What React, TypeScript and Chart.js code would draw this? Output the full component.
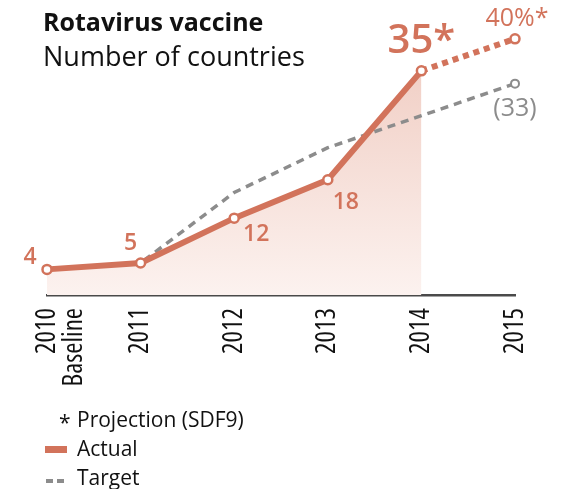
import React, { useEffect, useRef } from "react";
import { Chart, registerables } from "chart.js";

Chart.register(...registerables);

// ---- data ----
const categories: (string | string[])[] = [["2010", "Baseline"], "2011", "2012", "2013", "2014", "2015"];
const actual: (number | null)[] = [4, 5, 12, 18, 35, null];
const projection: (number | null)[] = [null, null, null, null, 35, 40];
const target: (number | null)[] = [4, 5, 16, 23, 28, 33];
const actualLabels: (string | null)[] = ["4", "5", "12", "18", "35*", null];
const projectionLabels: (string | null)[] = [null, null, null, null, null, "40%*"];
const targetLabels: (string | null)[] = [null, null, null, null, null, "(33)"];
const yMin = 0;
const yMax = 42;

const titleText = "Rotavirus vaccine";
const subtitleText = "Number of countries";
const legendNote = "Projection (SDF9)";
const legendActual = "Actual";
const legendTarget = "Target";

// ---- styles ----
const SALMON = "#d2735b";
const GRAY = "#8c8c8c";
const FONT = "'Open Sans', 'Noto Sans', sans-serif";

// label offsets (px, relative to the point) and fonts
const actualLabelStyle = [
  { dx: -17, dy: -12, font: `600 23px ${FONT}` },
  { dx: -10, dy: -20, font: `600 23px ${FONT}` },
  { dx: 22, dy: 16, font: `600 23px ${FONT}` },
  { dx: 18, dy: 23, font: `600 23px ${FONT}` },
  { dx: 0, dy: -29, font: `600 40px ${FONT}` },
  null,
];

const labelsPlugin = {
  id: "valueLabels",
  afterDatasetsDraw(chart: any) {
    const ctx = chart.ctx;
    ctx.save();
    ctx.textAlign = "center";
    ctx.textBaseline = "middle";
    const m0 = chart.getDatasetMeta(0);
    actualLabels.forEach((t, i) => {
      const st = actualLabelStyle[i];
      if (!t || !st) return;
      const p = m0.data[i];
      ctx.font = st.font;
      ctx.fillStyle = SALMON;
      ctx.fillText(t, p.x + st.dx, p.y + st.dy);
    });
    const m1 = chart.getDatasetMeta(1);
    projectionLabels.forEach((t, i) => {
      if (!t) return;
      const p = m1.data[i];
      ctx.font = `25px ${FONT}`;
      ctx.fillStyle = SALMON;
      ctx.fillText(t, p.x + 2, p.y - 20);
    });
    const m2 = chart.getDatasetMeta(2);
    targetLabels.forEach((t, i) => {
      if (!t) return;
      const p = m2.data[i];
      ctx.font = `25px ${FONT}`;
      ctx.fillStyle = GRAY;
      ctx.fillText(t, p.x, p.y + 25);
    });
    ctx.restore();
  },
};

const decorPlugin = {
  id: "decor",
  afterDraw(chart: any) {
    const ctx = chart.ctx;
    ctx.save();
    ctx.textAlign = "left";
    ctx.textBaseline = "alphabetic";
    ctx.fillStyle = "#111";
    ctx.font = `bold 25px ${FONT}`;
    ctx.fillText(titleText, 43, 31);
    ctx.font = `27px ${FONT}`;
    ctx.fillText(subtitleText, 43, 66);

    // legend
    ctx.font = `21px ${FONT}`;
    ctx.fillStyle = "#111";
    ctx.fillText("*", 59, 430);
    ctx.fillText(legendNote, 77, 427);
    ctx.fillStyle = SALMON;
    ctx.fillRect(45, 446, 22, 7);
    ctx.fillStyle = "#111";
    ctx.fillText(legendActual, 77, 456);
    ctx.strokeStyle = GRAY;
    ctx.lineWidth = 4;
    ctx.setLineDash([7, 4]);
    ctx.beginPath();
    ctx.moveTo(46, 481);
    ctx.lineTo(64, 481);
    ctx.stroke();
    ctx.setLineDash([]);
    ctx.fillText(legendTarget, 77, 485);
    ctx.restore();
  },
};

export default function App() {
  const ref = useRef<HTMLCanvasElement | null>(null);

  useEffect(() => {
    if (!ref.current) return;
    const chart = new Chart(ref.current, {
      type: "line",
      data: {
        labels: categories,
        datasets: [
          {
            label: legendActual,
            data: actual,
            order: 0,
            borderColor: SALMON,
            borderWidth: 6,
            tension: 0,
            fill: "origin",
            backgroundColor: (c: any) => {
              const area = c.chart.chartArea;
              if (!area) return "rgba(240,200,190,0.5)";
              const g = c.chart.ctx.createLinearGradient(0, area.top, 0, area.bottom);
              g.addColorStop(0, "#efc9be");
              g.addColorStop(1, "#fcf2ef");
              return g;
            },
            pointRadius: 4.5,
            pointBorderWidth: 2.5,
            pointBackgroundColor: "#ffffff",
            pointBorderColor: SALMON,
            spanGaps: false,
          },
          {
            label: "Projection",
            data: projection,
            order: 1,
            borderColor: SALMON,
            borderWidth: 6,
            borderDash: [6, 5],
            borderCapStyle: "butt",
            fill: false,
            pointRadius: [0, 0, 0, 0, 0, 4.5],
            pointBorderWidth: 2.5,
            pointBackgroundColor: "#ffffff",
            pointBorderColor: SALMON,
          },
          {
            label: legendTarget,
            data: target,
            order: 2,
            borderColor: GRAY,
            borderWidth: 3.5,
            borderDash: [8, 6],
            borderCapStyle: "butt",
            fill: false,
            pointRadius: [0, 0, 0, 0, 0, 4],
            pointBorderWidth: 2,
            pointBackgroundColor: "#ffffff",
            pointBorderColor: GRAY,
          },
        ],
      },
      options: {
        responsive: false,
        animation: false,
        devicePixelRatio: 1,
        layout: { padding: { left: 47, right: 48, top: 26, bottom: 0 } },
        plugins: {
          legend: { display: false },
          tooltip: { enabled: false },
          title: { display: false },
          filler: { drawTime: "beforeDatasetsDraw" },
        },
        scales: {
          x: {
            type: "category",
            offset: false,
            grid: { display: false, drawTicks: false },
            border: { display: true, color: "#4a4a4a", width: 2.5 },
            ticks: {
              autoSkip: false,
              maxRotation: 90,
              minRotation: 90,
              padding: 13,
              color: "#111",
              font: { family: "'Open Sans', sans-serif", weight: "normal condensed", size: 27, lineHeight: 1.0 },
            },
            afterFit: (scale: any) => {
              scale.height = 194;
            },
          },
          y: {
            display: false,
            min: yMin,
            max: yMax,
          },
        },
      } as any,
      plugins: [labelsPlugin, decorPlugin],
    });
    return () => chart.destroy();
  }, []);

  return (
    <div style={{ position: "fixed", left: 0, top: 0, width: 563, height: 489, background: "#fff" }}>
      <canvas ref={ref} width={563} height={489} style={{ display: "block" }} />
    </div>
  );
}
